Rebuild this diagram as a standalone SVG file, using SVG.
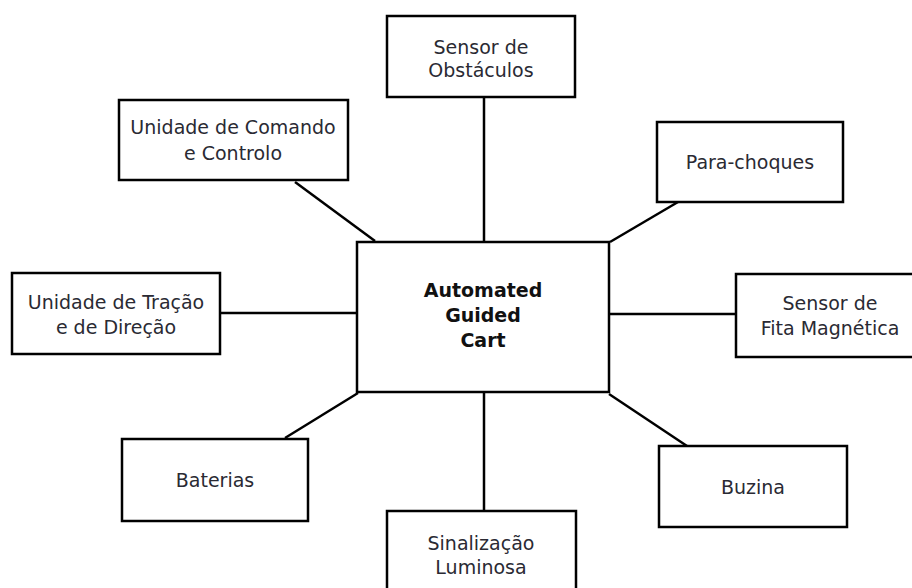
<svg xmlns="http://www.w3.org/2000/svg" width="912" height="588" viewBox="0 0 912 588">
<style>
.box{fill:#fff;stroke:#000;stroke-width:2.5}
.t{font-family:"DejaVu Sans",Verdana,sans-serif;font-size:19px;fill:#2a2a33;text-anchor:middle}
.b{font-weight:bold;fill:#111}
.c{stroke:#000;stroke-width:2.5;fill:none}
</style>
<rect width="912" height="588" fill="#fff"/>
<g id="connectors">
<line class="c" x1="484" y1="97" x2="484" y2="242"/>
<line class="c" x1="295" y1="182" x2="375" y2="241"/>
<line class="c" x1="678" y1="202" x2="610" y2="242"/>
<line class="c" x1="220" y1="313" x2="357" y2="313"/>
<line class="c" x1="609" y1="314" x2="736" y2="314"/>
<line class="c" x1="285" y1="438" x2="358" y2="393"/>
<line class="c" x1="484" y1="392" x2="484" y2="511"/>
<line class="c" x1="609" y1="394" x2="687" y2="446"/>
</g>
<g id="center">
<rect class="box" x="357" y="242" width="252" height="150" stroke-width="3"/>
<text class="t b" x="483" y="297">Automated</text>
<text class="t b" x="483" y="322">Guided</text>
<text class="t b" x="483" y="347">Cart</text>
</g>
<g id="sensor-obstaculos">
<rect class="box" x="387" y="16" width="188" height="81"/>
<text class="t" x="481" y="54">Sensor de</text>
<text class="t" x="481" y="77">Obstáculos</text>
</g>
<g id="unidade-comando">
<rect class="box" x="119" y="100" width="229" height="80" stroke-width="3"/>
<text class="t" x="233" y="134">Unidade de Comando</text>
<text class="t" x="233" y="160">e Controlo</text>
</g>
<g id="para-choques">
<rect class="box" x="657" y="122" width="186" height="80" stroke-width="3"/>
<text class="t" x="750" y="169">Para-choques</text>
</g>
<g id="unidade-tracao">
<rect class="box" x="12" y="273" width="208" height="81"/>
<text class="t" x="116" y="309">Unidade de Tração</text>
<text class="t" x="116" y="334">e de Direção</text>
</g>
<g id="sensor-fita">
<rect class="box" x="736" y="274" width="190" height="83" stroke-width="3"/>
<text class="t" x="830" y="310">Sensor de</text>
<text class="t" x="830" y="335">Fita Magnética</text>
</g>
<g id="baterias">
<rect class="box" x="122" y="439" width="186" height="82"/>
<text class="t" x="215" y="487">Baterias</text>
</g>
<g id="sinalizacao">
<rect class="box" x="387" y="511" width="189" height="90"/>
<text class="t" x="481" y="550">Sinalização</text>
<text class="t" x="481" y="574">Luminosa</text>
</g>
<g id="buzina">
<rect class="box" x="659" y="446" width="188" height="81"/>
<text class="t" x="753" y="494">Buzina</text>
</g>
</svg>
